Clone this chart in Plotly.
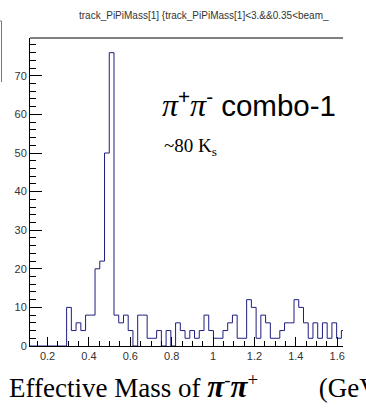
import numpy as np
import plotly.graph_objects as go

# ---- data ----
bin_start = 0.292          # low edge of first filled bin (GeV)
bin_width = 0.0229         # bin width (GeV)
counts = [10, 4, 6, 4, 8, 8, 20, 22, 50, 76,
          8, 6, 8, 4, 0, 8, 8, 2, 2, 4,
          0, 4, 0, 6, 4, 2, 4, 2, 4, 8,
          4, 2, 2, 4, 6, 8, 2, 2, 12, 10,
          2, 8, 6, 2, 2, 4, 6, 6, 12, 10,
          6, 2, 6, 2, 6, 2, 6, 2, 4, 4]
x_range = [0.115, 1.628]
y_range = [0, 79.8]
x_tick_vals = [0.2, 0.4, 0.6, 0.8, 1.0, 1.2, 1.4, 1.6]
x_tick_text = ["0.2", "0.4", "0.6", "0.8", "1", "1.2", "1.4", "1.6"]
y_tick_vals = [0, 10, 20, 30, 40, 50, 60, 70]

title_text = "track_PiPiMass[1] {track_PiPiMass[1]&lt;3.&amp;&amp;0.35&lt;beam_"
label_text = ("<span style='font-family:Liberation Serif;font-size:32px'><i>π</i></span><sup>+</sup>"
              "<span style='font-family:Liberation Serif;font-size:32px'><i>π</i></span><sup>-</sup>"
              " combo-1")
ks_text = "~80 K<sub>s</sub>"
xlabel_text = ("Effective Mass of <b><i><span style='font-size:31px'>π</span></i></b>"
               "<sup>-</sup><b><i><span style='font-size:31px'>π</span></i></b>"
               "<sup>+</sup>&nbsp;&nbsp;&nbsp;&nbsp;&nbsp;&nbsp;&nbsp;&nbsp; (GeV/c<sup>2</sup>)")

# ---- geometry ----
W, H = 366, 411
L, R, T, B = 30, 343, 38, 346   # plot area in pixels

def px(X):
    return (X - L) / (R - L)

def py(Y):
    return (B - Y) / (B - T)

n = len(counts)
edges = bin_start + bin_width * np.arange(n + 1)
xs = [x_range[0]] + list(edges[:-1]) + [edges[-1]]
ys = [0] + counts + [counts[-1]]

fig = go.Figure()
fig.add_trace(go.Scatter(
    x=xs, y=ys, mode="lines", line=dict(color="#1e1e80", width=1, shape="hv"),
    hoverinfo="skip", showlegend=False))

fig.update_layout(
    width=W, height=H,
    margin=dict(l=L, r=W - R, t=T, b=H - B, pad=0),
    paper_bgcolor="white", plot_bgcolor="white",
    showlegend=False,
    xaxis=dict(range=x_range, showgrid=False, zeroline=False,
               showline=True, linecolor="black", linewidth=1,
               ticks="inside", ticklen=9, tickcolor="black", tickwidth=1,
               tickvals=x_tick_vals, ticktext=x_tick_text,
               tickfont=dict(family="Liberation Sans, Arial", size=11, color="#333"),
               minor=dict(dtick=0.05, tick0=0.0, ticks="inside", ticklen=5,
                          tickcolor="black", showgrid=False)),
    yaxis=dict(range=y_range, showgrid=False, zeroline=False,
               showline=True, linecolor="black", linewidth=1,
               ticks="inside", ticklen=12, tickcolor="black", tickwidth=1,
               tickvals=y_tick_vals,
               tickfont=dict(family="Liberation Sans, Arial", size=11, color="#333"),
               minor=dict(dtick=2, tick0=0, ticks="inside", ticklen=6,
                          tickcolor="black", showgrid=False)),
)

# top frame line (right side is cropped in the reference)
fig.add_shape(type="line", xref="paper", yref="paper", x0=0, x1=1, y0=1, y1=1,
              line=dict(color="black", width=1))
# cropped box edge at far left
fig.add_shape(type="line", xref="paper", yref="paper",
              x0=px(1.5), x1=px(1.5), y0=py(21), y1=py(82),
              line=dict(color="#777", width=1))
fig.add_shape(type="line", xref="paper", yref="paper",
              x0=px(0), x1=px(1.5), y0=py(21), y1=py(21),
              line=dict(color="#777", width=1))

fig.add_annotation(xref="paper", yref="paper", x=px(77), y=py(15),
                   xanchor="left", yanchor="middle", showarrow=False,
                   text=title_text,
                   font=dict(family="Liberation Sans, Arial", size=10, color="#333"))
fig.add_annotation(xref="paper", yref="paper", x=px(160), y=py(104),
                   xanchor="left", yanchor="middle", showarrow=False,
                   text=label_text,
                   font=dict(family="Liberation Sans, Arial", size=29.5, color="black"))
fig.add_annotation(xref="paper", yref="paper", x=px(162), y=py(147),
                   xanchor="left", yanchor="middle", showarrow=False,
                   text=ks_text,
                   font=dict(family="Liberation Serif", size=19, color="black"))
fig.add_annotation(xref="paper", yref="paper", x=px(7), y=py(386),
                   xanchor="left", yanchor="middle", showarrow=False,
                   text=xlabel_text,
                   font=dict(family="Liberation Serif", size=27, color="black"))

fig.write_html("out.html")
